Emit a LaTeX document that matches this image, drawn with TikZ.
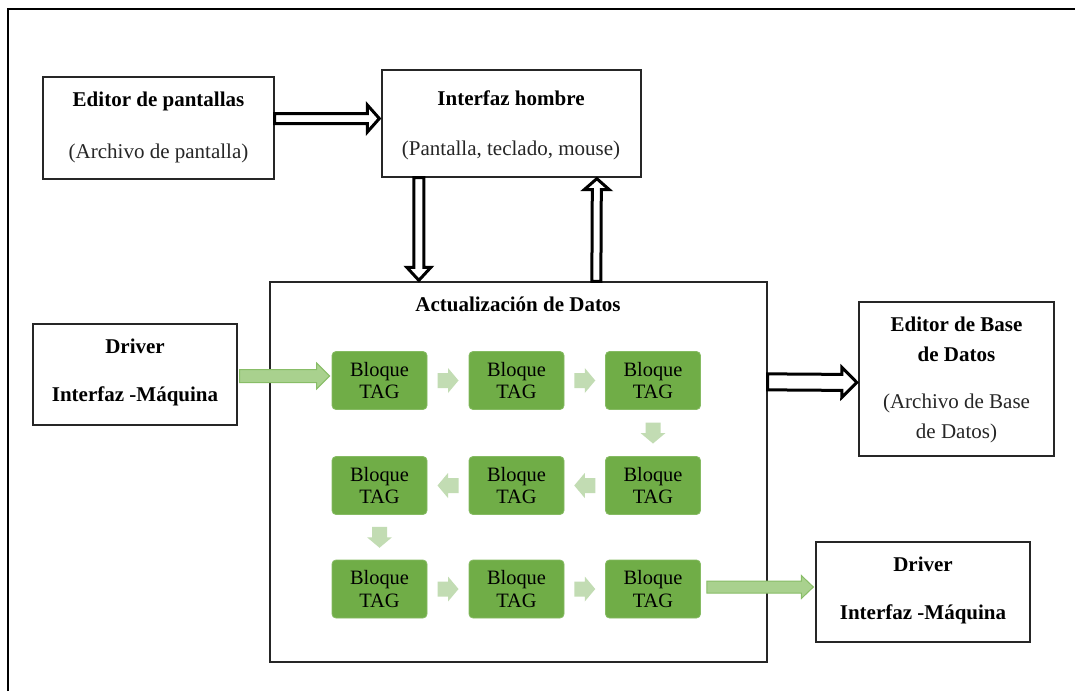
\documentclass[tikz,border=0pt]{standalone}
\usepackage{fontspec}
\setmainfont{Liberation Serif}
\usetikzlibrary{calc}
\definecolor{blockgreen}{HTML}{70AD47}
\definecolor{blockedge}{HTML}{86BB63}
\definecolor{biggreen}{HTML}{A9D18E}
\definecolor{biggreenedge}{HTML}{88BD67}
\definecolor{smallgreen}{HTML}{C2DCB3}
\definecolor{boxline}{HTML}{262626}

% #1 style, #2 start, #3 end, #4 shaft half width, #5 head half width, #6 head length
\newcommand\blockarrow[6]{%
  \path (#2) coordinate (baS) (#3) coordinate (baE) ($(baE)!#6!(baS)$) coordinate (baH);
  \draw[#1] ($(baS)!#4!90:(baE)$) -- ($(baH)!#4!90:(baE)$) -- ($(baH)!#5!90:(baE)$) -- (baE)
    -- ($(baH)!#5!-90:(baE)$) -- ($(baH)!#4!-90:(baE)$) -- ($(baS)!#4!-90:(baE)$) -- cycle;}
% small connector centred in the gap between two anchors
\newcommand\tagarrow[2]{%
  \path ($(#1)!0.5!(#2)$) coordinate (taM);
  \blockarrow{smallarrow}{$(taM)!10.5pt!(#1)$}{$(taM)!10.5pt!(#2)$}{7.5pt}{12.5pt}{10.5pt}}

\tikzset{
  box/.style={draw=boxline, line width=1.3pt, fill=white, inner sep=0pt},
  bt/.style={font=\fontsize{21}{25}\selectfont\bfseries, text=black, text height=13.9pt, text depth=0pt, inner sep=0pt},
  rt/.style={font=\fontsize{21}{25}\selectfont, text=black!85, text height=13.9pt, text depth=0pt, inner sep=0pt},
  tagblock/.style={fill=blockgreen, draw=blockedge, line width=0.8pt, rounded corners=4pt,
    minimum width=95pt, minimum height=58pt, inner sep=0pt, align=center,
    font=\fontsize{20.4}{22.5}\selectfont},
  hollow/.style={draw=black, fill=white, line width=3pt, line join=miter},
  bigarrow/.style={fill=biggreen, draw=biggreenedge, line width=1pt},
  smallarrow/.style={fill=smallgreen, draw=none},
}

\begin{document}
\begin{tikzpicture}[x=1pt, y=-1pt]
\useasboundingbox (0,0) rectangle (1075,691);
\fill[white] (0,0) rectangle (1075,691);
% outer frame
\draw[line width=2pt, black] (8,691) -- (8,9) -- (1075,9);

% boxes
\node[box, minimum width=231pt, minimum height=102pt] (ep) at (158.5,128) {};
\node[bt] (ep1) at (158.5,100) {Editor de pantallas};
\node[rt] (ep2) at (158.5,152) {(Archivo de pantalla)};

\node[box, minimum width=259pt, minimum height=107pt] (ih) at (511.5,123.5) {};
\node[bt] (ih1) at (511,99) {Interfaz hombre};
\node[rt] (ih2) at (511,148.5) {(Pantalla, teclado, mouse)};

\node[box, minimum width=497pt, minimum height=380pt] (act) at (518.5,472) {};
\node[bt] (act1) at (518,305) {Actualización de Datos};

\node[box, minimum width=204pt, minimum height=101pt] (dl) at (135,374.5) {};
\node[bt] (dl1) at (135,346.5) {Driver};
\node[bt] (dl2) at (135,395) {Interfaz -Máquina};

\node[box, minimum width=195pt, minimum height=154pt] (ebd) at (956.5,379) {};
\node[bt] (ebd1) at (956.5,324.5) {Editor de Base};
\node[bt] (ebd2) at (956.5,354.5) {de Datos};
\node[rt] (ebd3) at (956.5,402) {(Archivo de Base};
\node[rt] (ebd4) at (956.5,431.5) {de Datos)};

\node[box, minimum width=214pt, minimum height=100pt] (dr) at (923,592) {};
\node[bt] (dr1) at (923,564.5) {Driver};
\node[bt] (dr2) at (923,613) {Interfaz -Máquina};

% TAG blocks
\node[tagblock] (b11) at (379.5,380.5) {Bloque\\TAG};
\node[tagblock] (b12) at (516.5,380.5) {Bloque\\TAG};
\node[tagblock] (b13) at (653,380.5) {Bloque\\TAG};
\node[tagblock] (b21) at (379.5,485.5) {Bloque\\TAG};
\node[tagblock] (b22) at (516.5,485.5) {Bloque\\TAG};
\node[tagblock] (b23) at (653,485.5) {Bloque\\TAG};
\node[tagblock] (b31) at (379.5,589) {Bloque\\TAG};
\node[tagblock] (b32) at (516.5,589) {Bloque\\TAG};
\node[tagblock] (b33) at (653,589) {Bloque\\TAG};

% hollow arrows
\blockarrow{hollow}{$(ep.east)+(0,-9.5)$}{$(ih.west)+(-2,-5)$}{5pt}{13.5pt}{12pt}
\blockarrow{hollow}{$(ih.south west)+(37.5,0)$}{$(act.north west)+(149.5,-1)$}{5pt}{12pt}{13pt}
\blockarrow{hollow}{$(act.north west)+(327,0)$}{$(ih.south west)+(215.5,1)$}{4.5pt}{12.5pt}{11pt}
\blockarrow{hollow}{$(act.north east)+(0,100.5)$}{$(ebd.west)+(-1.5,3.5)$}{8pt}{15pt}{15pt}

% big green arrows
\blockarrow{bigarrow}{$(dl.east)+(2,1.5)$}{$(b11.west)+(-2,-4.5)$}{6.5pt}{13pt}{13pt}
\blockarrow{bigarrow}{$(b33.east)+(6,-2)$}{$(dr.west)+(-2,-5)$}{6pt}{11.5pt}{12pt}

% small connectors between blocks
\tagarrow{b11.east}{b12.west}
\tagarrow{b12.east}{b13.west}
\tagarrow{b13.south}{b23.north}
\tagarrow{b23.west}{b22.east}
\tagarrow{b22.west}{b21.east}
\tagarrow{b21.south}{b31.north}
\tagarrow{b31.east}{b32.west}
\tagarrow{b32.east}{b33.west}
\end{tikzpicture}
\end{document}
